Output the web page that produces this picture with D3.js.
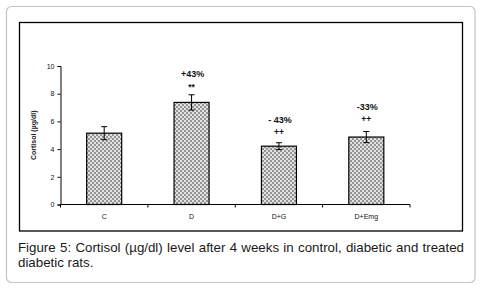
<!DOCTYPE html>
<html lang="en">
<head>
<meta charset="UTF-8">
<script src="https://d3js.org/d3.v7.min.js"></script>
<style>
  body { margin: 0; background: #fff; font-family: "Liberation Sans", Arial, sans-serif; }
  #wrap { position: relative; width: 481px; height: 288px; }
  #chart { position: absolute; left: 0; top: 0; }
  #caption {
    position: absolute; left: 18px; top: 241px; width: 446px;
    font-size: 13.3px; line-height: 14.5px; color: #1a1a1a;
    text-align: justify; text-align-last: left;
  }
</style>
</head>
<body>
<div id="wrap">
  <div id="chart"></div>
  <div id="caption">Figure 5: Cortisol (µg/dl) level after 4 weeks in control, diabetic and treated diabetic rats.</div>
</div>
<script>
  // data
  const groups = ["C", "D", "D+G", "D+Emg"];
  const means = [5.15, 7.37, 4.21, 4.87];
  const errors = [0.47, 0.55, 0.25, 0.4];
  const pctLabels = ["", "+43%", "- 43%", "-33%"];
  const sigLabels = ["", "**", "++", "++"];
  const yTicks = [0, 2, 4, 6, 8, 10];

  const width = 481, height = 288;
  const plot = { left: 60.5, right: 410, top: 66, bottom: 204.5 };

  const svg = d3.select("#chart").append("svg")
    .attr("width", width).attr("height", height);

  // dotted gray fill used in the bars
  const pat = svg.append("defs").append("pattern")
    .attr("id", "dots").attr("patternUnits", "userSpaceOnUse")
    .attr("width", 4).attr("height", 4);
  pat.append("rect").attr("width", 4).attr("height", 4).attr("fill", "#949494");
  pat.append("rect").attr("x", 0).attr("y", 0).attr("width", 2).attr("height", 2).attr("fill", "#e2e2e2");
  pat.append("rect").attr("x", 2).attr("y", 2).attr("width", 2).attr("height", 2).attr("fill", "#e2e2e2");

  // outer rounded frame and inner box
  svg.append("rect").attr("x", 6.5).attr("y", 6.5).attr("width", 468.5).attr("height", 276)
    .attr("rx", 5).attr("fill", "none").attr("stroke", "#c4c4c4").attr("stroke-width", 1.2);
  svg.append("rect").attr("x", 19.5).attr("y", 22.5).attr("width", 443).attr("height", 208.5)
    .attr("fill", "none").attr("stroke", "#000").attr("stroke-width", 1.3);

  const xEdge = d3.scaleBand().domain(groups).range([plot.left, plot.right]);
  const y = d3.scaleLinear().domain([0, 10]).range([plot.bottom, plot.top]);

  // y axis
  const yAxis = svg.append("g").attr("transform", `translate(${plot.left},0)`)
    .call(d3.axisLeft(y).tickValues(yTicks).tickSize(3).tickPadding(3));
  yAxis.selectAll("text").attr("font-size", 7).attr("font-family", "Liberation Sans, Arial, sans-serif").attr("fill", "#111");
  yAxis.selectAll("line, path").attr("stroke", "#000");

  // x axis with ticks between categories
  const xAxis = svg.append("g").attr("transform", `translate(0,${plot.bottom})`);
  xAxis.append("line").attr("x1", plot.left).attr("x2", plot.right).attr("stroke", "#000");
  const edges = groups.map(g => xEdge(g)).concat([plot.right]);
  xAxis.selectAll(".tk").data(edges).join("line")
    .attr("x1", d => d).attr("x2", d => d).attr("y1", 0).attr("y2", 3).attr("stroke", "#000");
  xAxis.selectAll(".lbl").data(groups).join("text")
    .attr("x", d => xEdge(d) + xEdge.bandwidth() / 2).attr("y", 14)
    .attr("text-anchor", "middle").attr("font-size", 7).attr("fill", "#111")
    .text(d => d);

  svg.append("text")
    .attr("transform", `translate(35.5,${(plot.top + plot.bottom) / 2}) rotate(-90)`)
    .attr("text-anchor", "middle").attr("font-size", 7).attr("font-weight", "bold")
    .attr("fill", "#222").text("Cortisol (µg/dl)");

  // bars
  const cx = g => xEdge(g) + xEdge.bandwidth() / 2;
  const bw = 35;
  svg.selectAll(".bar").data(groups).join("rect")
    .attr("x", g => cx(g) - bw / 2).attr("width", bw)
    .attr("y", (g, i) => y(means[i])).attr("height", (g, i) => y(0) - y(means[i]))
    .attr("fill", "url(#dots)").attr("stroke", "#000").attr("stroke-width", 1.2);

  // error bars
  const eb = svg.append("g").attr("stroke", "#000").attr("stroke-width", 1);
  groups.forEach((g, i) => {
    const hi = y(means[i] + errors[i]), lo = y(means[i] - errors[i]);
    eb.append("line").attr("x1", cx(g)).attr("x2", cx(g)).attr("y1", hi).attr("y2", lo);
    eb.append("line").attr("x1", cx(g) - 3).attr("x2", cx(g) + 3).attr("y1", hi).attr("y2", hi);
    eb.append("line").attr("x1", cx(g) - 3).attr("x2", cx(g) + 3).attr("y1", lo).attr("y2", lo);
  });

  // annotations above bars (baselines)
  const pctY = [0, 76.5, 122.5, 109.5];
  const sigY = [0, 90, 135, 122];
  groups.forEach((g, i) => {
    if (!pctLabels[i]) return;
    svg.append("text").attr("x", cx(g) + 1).attr("y", pctY[i])
      .attr("text-anchor", "middle").attr("font-size", 9).attr("font-weight", "bold")
      .attr("fill", "#111").text(pctLabels[i]);
    svg.append("text").attr("x", cx(g)).attr("y", sigY[i])
      .attr("text-anchor", "middle").attr("font-size", 8.5).attr("font-weight", "bold")
      .attr("fill", "#111").text(sigLabels[i]);
  });
</script>
</body>
</html>
